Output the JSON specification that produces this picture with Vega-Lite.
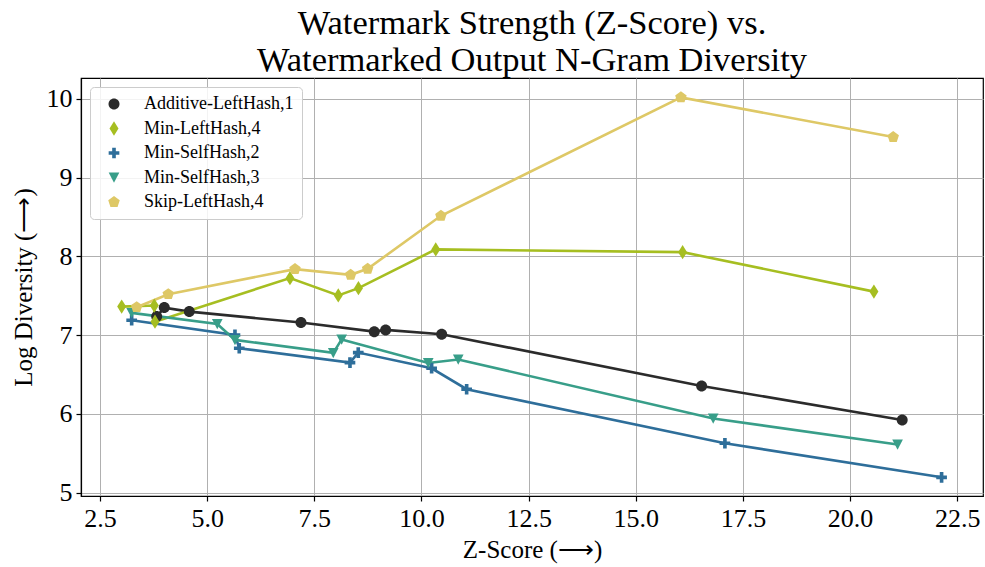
{
  "$schema": "https://vega.github.io/schema/vega-lite/v6.json",
  "width": 902,
  "height": 418,
  "autosize": {"type": "none"},
  "padding": {"left": 81, "top": 78, "right": 2, "bottom": 71},
  "background": "white",
  "title": {
    "text": ["Watermark Strength (Z-Score) vs.", "Watermarked Output N-Gram Diversity"],
    "font": "Liberation Serif",
    "fontSize": 34.5,
    "fontWeight": "normal",
    "color": "black",
    "anchor": "middle",
    "lineHeight": 37,
    "offset": 0
  },
  "data": {
    "values": [
      {"series": "Additive-LeftHash,1", "z": 3.823, "div": 7.235},
      {"series": "Additive-LeftHash,1", "z": 4.000, "div": 7.349},
      {"series": "Additive-LeftHash,1", "z": 4.583, "div": 7.298},
      {"series": "Additive-LeftHash,1", "z": 7.189, "div": 7.159},
      {"series": "Additive-LeftHash,1", "z": 8.899, "div": 7.044},
      {"series": "Additive-LeftHash,1", "z": 9.164, "div": 7.066},
      {"series": "Additive-LeftHash,1", "z": 10.471, "div": 7.011},
      {"series": "Additive-LeftHash,1", "z": 16.536, "div": 6.355},
      {"series": "Additive-LeftHash,1", "z": 21.215, "div": 5.923},
      {"series": "Min-LeftHash,4", "z": 3.006, "div": 7.362},
      {"series": "Min-LeftHash,4", "z": 3.767, "div": 7.375},
      {"series": "Min-LeftHash,4", "z": 3.783, "div": 7.171},
      {"series": "Min-LeftHash,4", "z": 6.932, "div": 7.723},
      {"series": "Min-LeftHash,4", "z": 8.059, "div": 7.504},
      {"series": "Min-LeftHash,4", "z": 8.530, "div": 7.596},
      {"series": "Min-LeftHash,4", "z": 10.333, "div": 8.088},
      {"series": "Min-LeftHash,4", "z": 16.092, "div": 8.053},
      {"series": "Min-LeftHash,4", "z": 20.555, "div": 7.552},
      {"series": "Min-SelfHash,2", "z": 3.239, "div": 7.189},
      {"series": "Min-SelfHash,2", "z": 5.649, "div": 7.002},
      {"series": "Min-SelfHash,2", "z": 5.749, "div": 6.833},
      {"series": "Min-SelfHash,2", "z": 8.332, "div": 6.651},
      {"series": "Min-SelfHash,2", "z": 8.525, "div": 6.778},
      {"series": "Min-SelfHash,2", "z": 10.237, "div": 6.579},
      {"series": "Min-SelfHash,2", "z": 11.054, "div": 6.313},
      {"series": "Min-SelfHash,2", "z": 17.079, "div": 5.627},
      {"series": "Min-SelfHash,2", "z": 22.134, "div": 5.195},
      {"series": "Min-SelfHash,3", "z": 3.239, "div": 7.282},
      {"series": "Min-SelfHash,3", "z": 5.236, "div": 7.142},
      {"series": "Min-SelfHash,3", "z": 5.649, "div": 6.939},
      {"series": "Min-SelfHash,3", "z": 7.942, "div": 6.774},
      {"series": "Min-SelfHash,3", "z": 8.138, "div": 6.945},
      {"series": "Min-SelfHash,3", "z": 10.158, "div": 6.647},
      {"series": "Min-SelfHash,3", "z": 10.858, "div": 6.691},
      {"series": "Min-SelfHash,3", "z": 16.806, "div": 5.942},
      {"series": "Min-SelfHash,3", "z": 21.107, "div": 5.612},
      {"series": "Skip-LeftHash,4", "z": 3.356, "div": 7.354},
      {"series": "Skip-LeftHash,4", "z": 4.093, "div": 7.519},
      {"series": "Skip-LeftHash,4", "z": 7.049, "div": 7.837},
      {"series": "Skip-LeftHash,4", "z": 8.348, "div": 7.765},
      {"series": "Skip-LeftHash,4", "z": 8.744, "div": 7.841},
      {"series": "Skip-LeftHash,4", "z": 10.454, "div": 8.514},
      {"series": "Skip-LeftHash,4", "z": 16.053, "div": 10.017},
      {"series": "Skip-LeftHash,4", "z": 21.005, "div": 9.514}
    ]
  },
  "encoding": {
    "x": {
      "field": "z", "type": "quantitative",
      "scale": {"domain": [2.057, 23.1], "nice": false, "zero": false},
      "axis": {
        "title": "Z-Score (⟶)",
        "values": [2.5, 5, 7.5, 10, 12.5, 15, 17.5, 20, 22.5],
        "format": ".1f",
        "titlePadding": 6
      }
    },
    "y": {
      "field": "div", "type": "quantitative",
      "scale": {"domain": [4.958, 10.263], "nice": false, "zero": false},
      "axis": {
        "title": "Log Diversity (⟶)",
        "values": [5, 6, 7, 8, 9, 10],
        "format": "d",
        "titlePadding": 10
      }
    },
    "color": {"field": "series", "type": "nominal",
      "legend": {"title": null, "orient": "top-left", "offset": 9},
      "scale": {"domain": ["Additive-LeftHash,1", "Min-LeftHash,4", "Min-SelfHash,2", "Min-SelfHash,3", "Skip-LeftHash,4"],
                "range": ["#2b2b2b", "#a6be21", "#2e6e9a", "#389e89", "#dec866"]}}
  },
  "layer": [
    {
      "mark": {"type": "line", "strokeWidth": 2.6, "opacity": 1}
    },
    {
      "mark": {"type": "point", "filled": true, "opacity": 1, "size": 121, "strokeWidth": 0},
      "encoding": {
        "shape": {"field": "series", "type": "nominal",
          "legend": {"title": null, "orient": "top-left", "offset": 9},
          "scale": {"domain": ["Additive-LeftHash,1", "Min-LeftHash,4", "Min-SelfHash,2", "Min-SelfHash,3", "Skip-LeftHash,4"],
                    "range": [
                      "M1,0A1,1,0,1,1,-1,0A1,1,0,1,1,1,0Z",
                      "M0,-1.3L0.82,0L0,1.3L-0.82,0Z",
                      "M-0.33,-0.97H0.33V-0.33H0.97V0.33H0.33V0.97H-0.33V0.33H-0.97V-0.33H-0.33Z",
                      "M-0.97,-0.9L0.97,-0.9L0,0.95Z",
                      "M0,-1.1L1.046,-0.34L0.647,0.89L-0.647,0.89L-1.046,-0.34Z"
                    ]}}
      }
    }
  ],
  "config": {
    "font": "Liberation Serif",
    "view": {"stroke": "black", "strokeWidth": 1.2},
    "axis": {
      "labelFont": "Liberation Serif",
      "labelFontSize": 26,
      "labelColor": "black",
      "titleFont": "Liberation Serif",
      "titleFontSize": 25,
      "titleFontWeight": "normal",
      "titleColor": "black",
      "tickColor": "black",
      "tickSize": 5,
      "tickWidth": 1.2,
      "domainColor": "black",
      "domainWidth": 1.2,
      "gridColor": "#b0b0b0",
      "gridWidth": 1,
      "labelPadding": 4
    },
    "legend": {
      "fillColor": "rgba(255,255,255,0.85)",
      "strokeColor": "#cccccc",
      "cornerRadius": 4,
      "padding": 8,
      "labelFont": "Liberation Serif",
      "labelFontSize": 18,
      "labelColor": "black",
      "labelLimit": 400,
      "symbolSize": 121,
      "symbolStrokeWidth": 0,
      "symbolOffset": 7,
      "labelOffset": 21,
      "rowPadding": 6.5
    }
  }
}
